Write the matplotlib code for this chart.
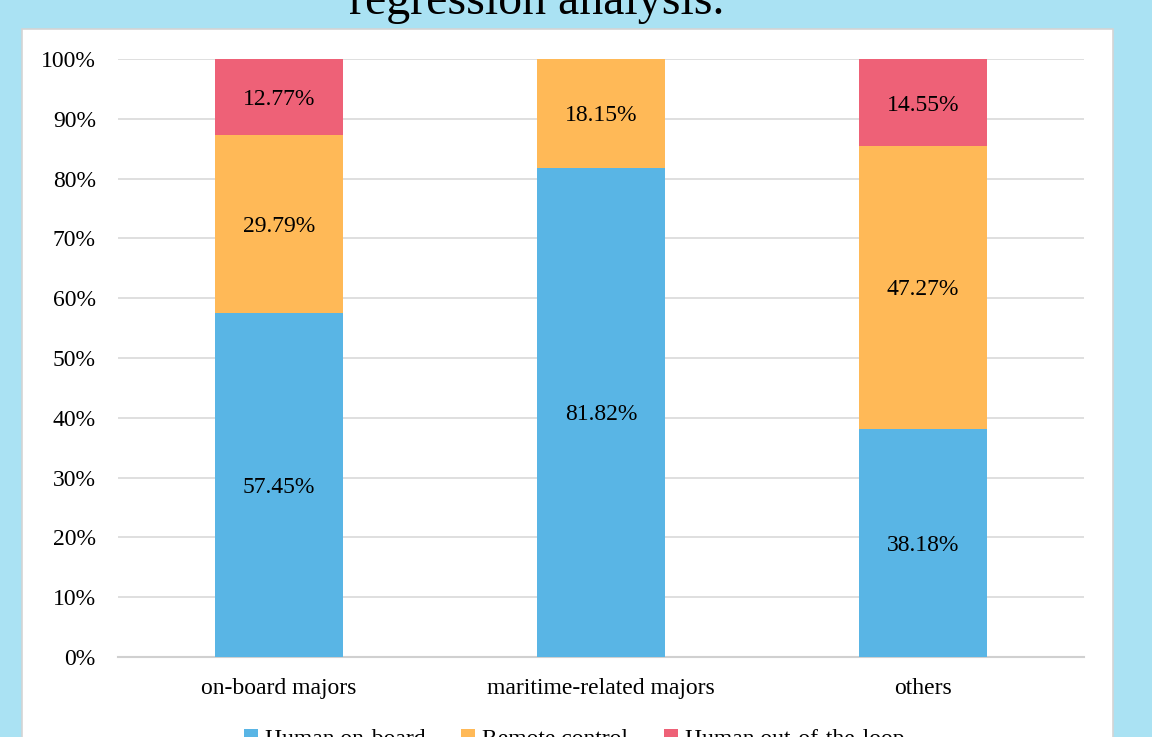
import matplotlib.pyplot as plt
from matplotlib.patches import Rectangle
import numpy as np

# ---- data ----
categories = ["on-board majors", "maritime-related majors", "others"]
human_on_board = [57.45, 81.82, 38.18]
remote_control = [29.79, 18.15, 47.27]
human_out_of_loop = [12.77, 0.0, 14.55]
series_names = ["Human on-board", "Remote control", "Human out-of-the-loop"]
y_ticks = [0, 10, 20, 30, 40, 50, 60, 70, 80, 90, 100]

COLORS = ["#59B5E5", "#FFB957", "#EE6177"]
BG = "#AAE2F3"
FS = 17

plt.rcParams['font.family'] = ['Liberation Serif', 'DejaVu Serif']

fig = plt.figure(figsize=(11.52, 7.37), dpi=100)
fig.patch.set_facecolor(BG)

# white chart panel behind the axes
panel = Rectangle((22 / 1152, -0.05), (1113 - 22) / 1152, 0.05 + 1 - 29 / 737,
                  transform=fig.transFigure, facecolor="white",
                  edgecolor="#D4D4D4", linewidth=1.2, zorder=-5)
fig.patches.append(panel)

fig.text(0.466, 1 - 14 / 737, "regression analysis.", ha="center", va="baseline",
         fontsize=34.5, color="black")

ax = fig.add_axes([118 / 1152, 1 - 657 / 737, (1084 - 118) / 1152, (657 - 59) / 737])
ax.set_zorder(2)
ax.set_facecolor("none")

x = np.arange(len(categories))
width = 0.4
stacks = [human_on_board, remote_control, human_out_of_loop]
bottom = np.zeros(len(categories))
for vals, color, name in zip(stacks, COLORS, series_names):
    vals = np.array(vals)
    ax.bar(x, vals, width, bottom=bottom, color=color, label=name, zorder=3)
    for xi, b, v in zip(x, bottom, vals):
        if v > 0:
            ax.text(xi, b + v / 2, f"{v:.2f}%", ha="center", va="center_baseline",
                    fontsize=FS, zorder=4)
    bottom += vals

ax.set_xlim(-0.5, 2.5)
ax.set_ylim(0, 100)
ax.set_yticks(y_ticks)
ax.set_yticklabels([f"{t}%" for t in y_ticks], fontsize=FS)
ax.set_xticks(x)
ax.set_xticklabels(categories, fontsize=FS)
ax.tick_params(axis="both", length=0)
ax.tick_params(axis="y", pad=16)
ax.tick_params(axis="x", pad=15)
ax.grid(axis="y", color="#D9D9D9", linewidth=1.2, zorder=0)
for side in ["top", "right", "left"]:
    ax.spines[side].set_visible(False)
ax.spines["bottom"].set_color("#D0D0D0")
ax.spines["bottom"].set_linewidth(1.5)

fig.legend(loc="upper center", bbox_to_anchor=(574 / 1152, 1 - 708 / 737), ncol=3,
           frameon=False, fontsize=FS, handlelength=0.6, handleheight=0.6,
           handletextpad=0.3, columnspacing=1.5)

fig.savefig("out.png", dpi=100, facecolor=BG)
